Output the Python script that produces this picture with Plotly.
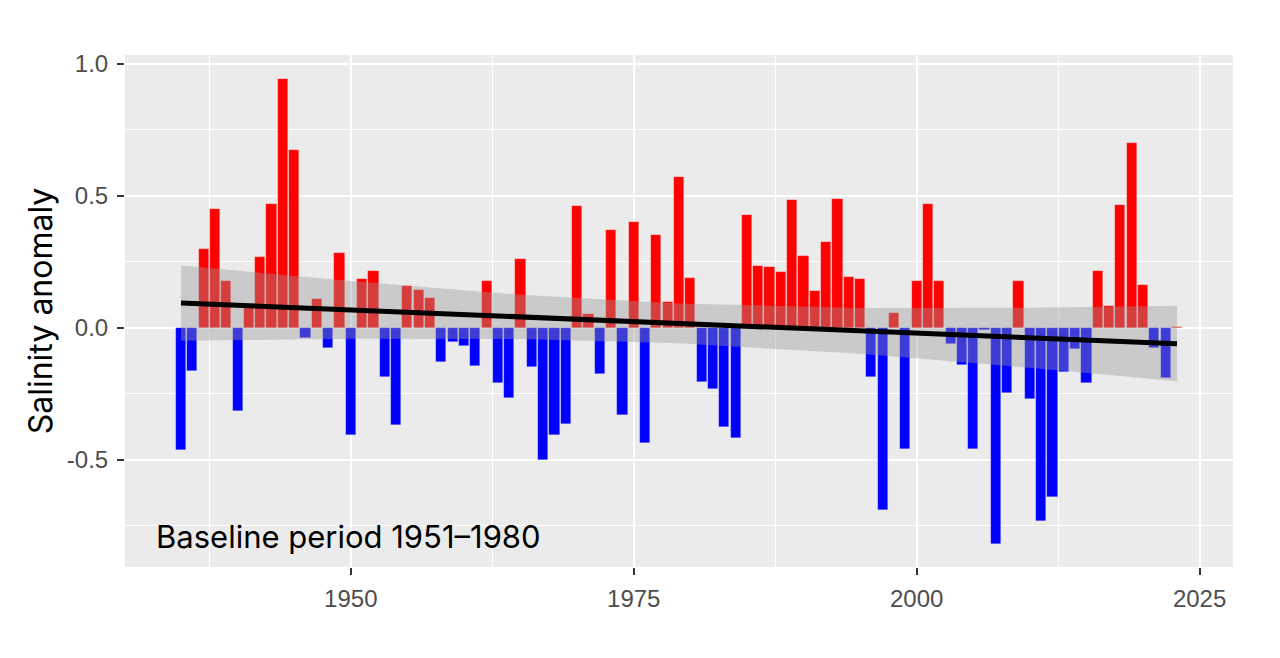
import plotly.graph_objects as go

# yearly salinity anomaly
years = list(range(1935, 2024))
anomaly = [
    -0.462, -0.165, 0.298, 0.449, 0.179, -0.317, 0.080, 0.269, 0.470, 0.942,  # 1935-1944
    0.674, -0.039, 0.110, -0.078, 0.283, -0.405, 0.184, 0.217, -0.187, -0.369,  # 1945-1954
    0.158, 0.144, 0.112, -0.131, -0.054, -0.068, -0.146, 0.177, -0.210, -0.266,  # 1955-1964
    0.260, -0.150, -0.503, -0.405, -0.364, 0.461, 0.052, -0.175, 0.370, -0.330,  # 1965-1974
    0.402, -0.436, 0.350, 0.098, 0.573, 0.187, -0.206, -0.231, -0.375, -0.419,  # 1975-1984
    0.428, 0.235, 0.230, 0.211, 0.484, 0.273, 0.141, 0.324, 0.487, 0.192,  # 1985-1994
    0.186, -0.188, -0.692, 0.056, -0.461, 0.176, 0.470, 0.176, -0.062, -0.141,  # 1995-2004
    -0.461, -0.010, -0.819, -0.247, 0.179, -0.270, -0.732, -0.641, -0.168, -0.080,  # 2005-2014
    -0.210, 0.216, 0.084, 0.465, 0.701, 0.163, -0.077, -0.192, 0.004,  # 2015-2023
]

# linear trend and its confidence band
trend_years = [1935, 1950, 1965, 1979, 1995, 2010, 2023]
trend_fit = [0.094, 0.068, 0.041, 0.017, -0.012, -0.038, -0.061]
band_upper = [0.236, 0.177, 0.125, 0.092, 0.075, 0.076, 0.083]
band_lower = [-0.049, -0.042, -0.043, -0.059, -0.099, -0.152, -0.203]

note = "Baseline period 1951–1980"

bar_colors = ["#FF0000" if v >= 0 else "#0000FF" for v in anomaly]

fig = go.Figure()

fig.add_trace(
    go.Bar(
        x=years,
        y=anomaly,
        width=0.9,
        marker=dict(color=bar_colors, line=dict(width=0.6, color="rgba(255,255,255,0.35)")),
        showlegend=False,
    )
)

fig.add_trace(
    go.Scatter(
        x=trend_years + trend_years[::-1],
        y=band_upper + band_lower[::-1],
        mode="lines",
        line=dict(width=0),
        fill="toself",
        fillcolor="rgba(153,153,153,0.4)",
        hoverinfo="skip",
        showlegend=False,
    )
)

fig.add_trace(
    go.Scatter(
        x=trend_years,
        y=trend_fit,
        mode="lines",
        line=dict(color="black", width=5),
        showlegend=False,
    )
)

fig.add_annotation(
    x=1932.6,
    y=-0.79,
    xref="x",
    yref="y",
    text=note,
    showarrow=False,
    xanchor="left",
    yanchor="middle",
    font=dict(family="Inter", size=31, color="black"),
)

axis_common = dict(
    showline=False,
    zeroline=False,
    showgrid=True,
    gridcolor="white",
    gridwidth=2.2,
    ticks="outside",
    ticklen=7,
    tickwidth=2,
    tickcolor="#333333",
    tickfont=dict(family="Liberation Sans", size=24, color="#4D4D4D"),
)

# page body has an 8px margin, so the figure is sized to fit inside it
fig.update_layout(
    width=1272,
    height=650,
    margin=dict(l=117, r=47, t=47, b=91),
    paper_bgcolor="white",
    plot_bgcolor="#EBEBEB",
    bargap=0,
    xaxis=dict(
        **axis_common,
        range=[1930.05, 2027.95],
        tickmode="array",
        tickvals=[1950, 1975, 2000, 2025],
        ticklabelstandoff=3,
        minor=dict(tickvals=[1937.5, 1962.5, 1987.5, 2012.5], showgrid=True,
                   gridcolor="white", gridwidth=1.1, ticks=""),
    ),
    yaxis=dict(
        **axis_common,
        range=[-0.907, 1.034],
        tickmode="array",
        tickvals=[-0.5, 0.0, 0.5, 1.0],
        ticktext=["-0.5", "0.0", "0.5", "1.0"],
        ticklabelstandoff=4,
        minor=dict(tickvals=[-0.75, -0.25, 0.25, 0.75], showgrid=True,
                   gridcolor="white", gridwidth=1.1, ticks=""),
        title=dict(text="Salinity anomaly", font=dict(family="Inter", size=32, color="black"),
                   standoff=4),
    ),
)

fig.write_html("out.html")
